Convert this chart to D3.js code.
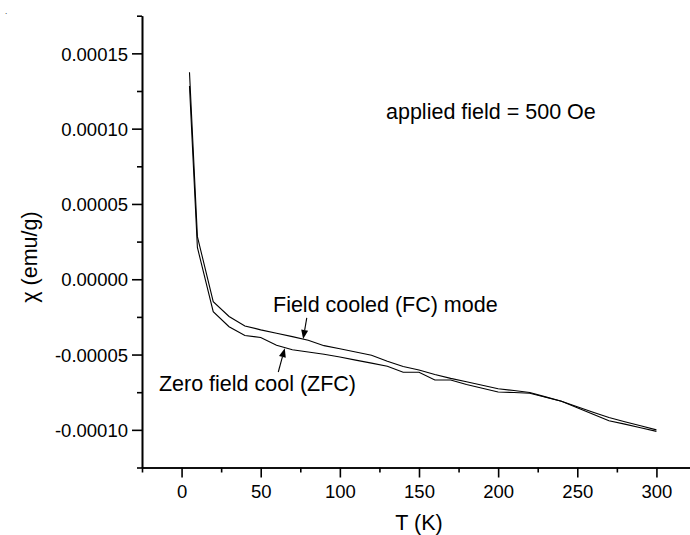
<!DOCTYPE html>
<html><head><meta charset="utf-8">
<script src="https://cdn.jsdelivr.net/npm/d3@7"></script>
<style>body{margin:0;background:#fff}svg{display:block}text{font-family:"Liberation Sans",Arial,sans-serif;fill:#000}</style>
</head><body><svg id="c" width="690" height="535"></svg>
<script>
// ---- data ----
const temps = [5,10,20,30,40,50,60,70,80,90,100,110,120,130,140,150,160,170,180,190,200,210,220,230,240,250,260,270,280,290,300];
const fcValues = [0.0001374,0.0000283,-0.0000149,-0.0000247,-0.000031,-0.0000336,-0.0000358,-0.0000381,-0.0000405,-0.0000441,-0.0000461,-0.0000483,-0.0000505,-0.0000544,-0.0000579,-0.0000603,-0.0000632,-0.0000658,-0.0000681,-0.0000704,-0.0000727,-0.0000739,-0.0000752,-0.0000781,-0.000081,-0.0000846,-0.0000883,-0.0000918,-0.0000946,-0.0000973,-0.0001000];
const zfcValues = [0.0001283,0.0000211,-0.0000215,-0.0000315,-0.0000373,-0.0000387,-0.0000438,-0.0000468,-0.0000483,-0.0000498,-0.0000516,-0.0000537,-0.0000557,-0.0000578,-0.0000618,-0.0000618,-0.0000669,-0.0000669,-0.0000699,-0.0000724,-0.0000749,-0.0000752,-0.0000757,-0.0000784,-0.000081,-0.0000853,-0.0000897,-0.0000939,-0.0000962,-0.0000986,-0.000101];
const xMajorTicks = [0,50,100,150,200,250,300];
const xMinorTicks = [-25,25,75,125,175,225,275,325];
const yMajorTicks = [-0.0001,-0.00005,0,0.00005,0.0001,0.00015];
const yMinorTicks = [-0.000125,-0.000075,-0.000025,0.000025,0.000075,0.000125,0.000175];
const xTitle = "T (K)";
const yTitle = "χ (emu/g)";
const fieldNote = "applied field = 500 Oe";
const fcLabel = "Field cooled (FC) mode";
const zfcLabel = "Zero field cool (ZFC)";
// arrows: [T tail, value tail, T tip, value tip]
const fcArrow = [79.1,-0.0000257,76.8,-0.0000397];
const zfcArrow = [61.1,-0.0000616,65.2,-0.0000458];

// ---- layout ----
const svg = d3.select("#c");
const x = d3.scaleLinear().domain([-25,325]).range([142,696]);
const y = d3.scaleLinear().domain([-0.000125,0.000175]).range([467.5,15.7]);
const fmt = d => d3.format(".5f")(d).replace("\u2212","-");
const TS = 18.5, AS = 21.5;

// x axis
const gx = svg.append("g").attr("transform","translate(0,"+y(-0.000125)+")");
gx.call(d3.axisBottom(x).tickValues(xMinorTicks).tickSize(5).tickSizeOuter(0).tickFormat(""));
gx.call(g=>g.append("g").call(d3.axisBottom(x).tickValues(xMajorTicks).tickSize(10).tickSizeOuter(0).tickFormat(d3.format("d"))));
// y axis
const gy = svg.append("g").attr("transform","translate("+x(-25)+",0)");
gy.call(d3.axisLeft(y).tickValues(yMinorTicks).tickSize(5).tickSizeOuter(0).tickFormat(""));
gy.call(g=>g.append("g").call(d3.axisLeft(y).tickValues(yMajorTicks).tickSize(10).tickSizeOuter(0).tickFormat(fmt)));
svg.selectAll(".domain,.tick line").attr("stroke","#000").attr("stroke-width",1.6);
svg.selectAll(".tick text").attr("font-size",TS).attr("font-family","Liberation Sans, Arial, sans-serif").attr("fill","#000");
gx.selectAll(".tick text").attr("dy",null).attr("y",30);
gy.selectAll(".tick text").attr("x",-14).attr("dy","0.36em");

// curves
const line = d3.line().x((d,i)=>x(temps[i])).y(d=>y(d));
[fcValues,zfcValues].forEach(vals=>{
  svg.append("path").datum(vals).attr("d",line).attr("fill","none").attr("stroke","#000").attr("stroke-width",1.1).attr("stroke-linejoin","miter");
});

// titles
svg.append("text").attr("x",419).attr("y",530).attr("text-anchor","middle").attr("font-size",AS).text(xTitle);
svg.append("text").attr("transform","translate(36.5,257) rotate(-90)").attr("text-anchor","middle").attr("font-size",AS).text(yTitle);
svg.append("text").attr("x",386).attr("y",119).attr("font-size",AS).text(fieldNote);
svg.append("text").attr("x",273).attr("y",312).attr("font-size",AS).text(fcLabel);
svg.append("text").attr("x",356).attr("y",391).attr("text-anchor","end").attr("font-size",AS).text(zfcLabel);
svg.append("text").attr("x",5).attr("y",14).attr("font-size",8).text(".");

// arrows
function arrow(a){
  const x1=x(a[0]),y1=y(a[1]),x2=x(a[2]),y2=y(a[3]);
  const ang=Math.atan2(y2-y1,x2-x1), L=9, W=3.5;
  const bx=x2-L*Math.cos(ang), by=y2-L*Math.sin(ang);
  svg.append("line").attr("x1",x1).attr("y1",y1).attr("x2",bx).attr("y2",by).attr("stroke","#000").attr("stroke-width",1.1);
  const px=-Math.sin(ang), py=Math.cos(ang);
  svg.append("path").attr("d",`M${x2},${y2}L${bx+W*px},${by+W*py}L${bx-W*px},${by-W*py}Z`).attr("fill","#000");
}
arrow(fcArrow); arrow(zfcArrow);
</script></body></html>
